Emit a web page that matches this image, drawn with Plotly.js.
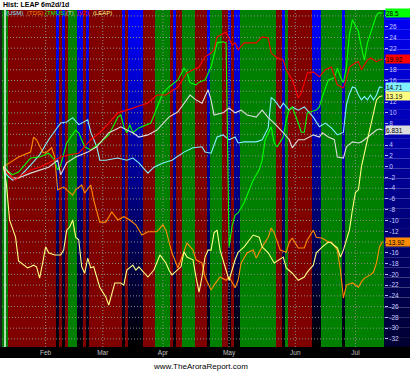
<!DOCTYPE html>
<html><head><meta charset="utf-8">
<script src="https://cdn.plot.ly/plotly-3.0.1.min.js"></script>
<style>html,body{margin:0;padding:0;background:#fff;overflow:hidden}#chart{width:410px;height:374px}</style>
</head><body><div id="chart"></div>
<script>
// ---- data (trading-day index 0..126, % change) ----
const monthTicks = [14, 33, 53, 75, 97, 117];
const monthNames = ['Feb', 'Mar', 'Apr', 'May', 'Jun', 'Jul'];
const yTickVals = [28,26,24,22,20,18,16,14,12,10,8,6,4,2,0,-2,-4,-6,-8,-10,-12,-14,-16,-18,-20,-22,-24,-26,-28,-30,-32];
const yTickHidden = [28, 20, 14, 6, -14];   // covered by the end-value boxes

// daily signal band: G = green, R = red, B = blue
const bandCodes = ("GG RRRRRRRRRRRRRRRR B R B R GGG BB R B RRRRRRRRRRR B R BBBBB RRRR GGGGG R B RR GGGG RRRR B GGGG RR B R BB " +
                   "GGGGGGGGGGGG RR B G RRRRRRRR BBB GGGGGGG B GGGGGGGGGGGGG").replace(/ /g, '');

const usmDays = [0,1,3,5,9,12,15,19,21,23,25,28,29,31,32,34,38,41,43,45,48,50,53,56,60,63,66,67,69,71,73,75,77,78,80,84,86,88,89,90,92,93,95,96,98,100,103,105,107,109,111,113,114,115,116,117,118,119,120,121,122,123,124,125,126];
const usmVals = [0,-1.5,-2.5,-2.1,0.3,2.2,5.0,8.1,8.3,9.1,7.8,8.7,6.4,3.7,1.2,1.2,1.6,1.2,1.6,0.7,-1.2,-0.1,0.7,1.2,2.7,3.5,3.7,2.7,2.5,5.5,5.9,5.0,5.5,4.4,4.6,4.6,5.0,7.2,12.8,12.4,10.9,11.8,10.5,11.1,10.5,11.1,9.2,7.4,8.1,7.2,5.9,6.4,11.5,13.5,14.8,14.6,13.3,12.4,13.0,12.4,13.3,12.4,13.3,14.8,14.71];

const tdsDays = [0,1,2,5,9,10,11,13,14,16,17,18,20,21,23,24,26,27,29,30,32,34,36,38,40,42,44,46,48,50,51,53,54,56,58,59,61,63,64,66,67,69,70,72,74,75,77,78,79,81,83,84,86,88,89,90,92,94,95,96,98,100,101,103,104,106,108,109,111,112,113,114,116,118,119,120,122,123,124,125,126];
const tdsVals = [0,0.3,0.7,1.8,2.7,5.5,5.0,2.7,2.5,3.5,1.8,-4.3,-3.8,-4.3,-5.3,-4.3,-3.4,-4.9,-3.4,-6.2,-10.3,-10.3,-8.4,-9.9,-9.3,-9.9,-10.8,-12.7,-12.1,-12.1,-12.1,-10.8,-11.8,-16.0,-18.8,-17.3,-14.2,-15.5,-17.3,-17.9,-20.5,-22.9,-22.0,-20.5,-21.1,-20.5,-22.5,-21.1,-17.9,-16.0,-15.5,-17.0,-14.9,-13.1,-11.4,-12.3,-15.5,-15.9,-14.0,-13.3,-15.1,-15.1,-13.6,-11.8,-13.1,-13.3,-14.0,-14.0,-15.5,-19.2,-24.4,-22.0,-21.6,-22.4,-21.4,-20.7,-20.1,-19.6,-17.9,-14.9,-13.92];

const tmusDays = [0,1,3,5,9,12,15,17,18,19,21,23,24,25,27,29,32,35,38,39,40,41,42,43,45,49,50,52,53,55,58,60,61,62,64,65,67,69,71,73,74,75,76,77,78,80,83,85,86,87,88,89,90,91,93,94,95,96,98,99,100,101,104,105,106,108,110,111,112,113,114,115,116,118,119,120,121,122,123,124,125,126];
const tmusVals = [0,-0.6,-1.5,-1.0,1.6,1.8,2.5,1.2,-0.6,0.3,4.4,5.9,6.8,6.3,3.7,3.1,4.4,5.9,9.2,9.6,7.4,6.3,7.8,6.3,7.2,8.1,9.6,12.4,13.7,14.8,16.1,18.3,17.6,15.6,15.2,15.7,16.1,18.5,23.0,23.2,23.0,-14.9,-11.0,-9.0,-8.6,-6.7,-2.5,-0.6,1.2,5.0,6.3,7.4,4.4,3.7,5.5,8.7,10.5,11.1,8.1,6.4,6.4,10.0,10.5,11.1,13.0,16.1,16.5,18.3,16.7,15.6,18.5,24.5,27.3,25.1,22.1,19.8,23.0,24.8,26.7,28.2,28.6,28.5];

const tDays = [0,1,3,5,9,12,15,18,19,21,24,28,31,33,35,37,39,41,43,45,48,51,53,55,58,60,62,64,66,68,69,70,73,75,77,79,81,84,86,88,90,93,95,96,98,100,103,105,106,108,110,111,113,114,116,118,119,120,122,124,125,126];
const tVals = [0,-0.6,-2.1,-2.1,-1.2,-0.6,-0.1,1.2,-1.5,0.7,1.8,2.7,3.7,5.0,6.3,6.8,7.4,6.8,6.3,5.5,5.9,6.8,8.1,9.2,10.2,11.8,13.3,12.4,11.8,14.3,12.4,9.6,10.0,10.9,10.0,10.5,9.6,9.2,10.5,9.1,8.1,6.3,5.0,3.5,5.0,5.0,5.9,5.5,6.3,5.5,5.0,1.8,1.6,3.7,4.6,4.4,4.6,5.0,5.9,6.8,7.0,6.83];

const vzDays = [0,1,3,4,5,9,12,15,19,22,25,29,32,35,38,41,44,48,51,54,58,61,63,65,67,69,70,71,74,75,76,77,78,80,84,86,88,89,91,93,94,96,98,99,100,101,103,105,107,109,111,113,114,115,117,118,119,120,121,122,123,124,125,126];
const vzVals = [0,-1.0,-2.1,-2.5,-1.9,-0.6,-0.1,0.7,1.8,2.2,2.5,5.0,6.3,8.1,10.0,10.5,11.1,11.8,13.3,13.3,14.8,17.4,18.0,18.5,20.4,21.1,21.7,24.1,25.0,23.9,22.6,23.0,21.7,23.0,23.0,24.1,23.9,21.1,20.2,19.8,18.0,16.1,12.8,13.7,15.6,17.4,17.6,16.7,18.0,18.5,15.2,14.6,16.3,18.5,19.3,19.5,18.0,18.9,19.8,20.2,19.8,19.5,19.8,19.92];

const leapDays = [0,1,2,3,4,5,6,8,9,10,11,12,13,14,15,17,19,20,21,22,23,24,25,26,27,28,29,30,32,34,35,37,39,40,41,43,44,45,48,50,52,54,55,56,59,60,61,63,64,65,66,67,68,69,70,71,72,74,75,76,77,78,80,83,85,86,88,90,93,94,96,98,100,101,103,104,106,108,109,111,112,113,115,116,117,118,119,120,121,122,123,124,125,126];
const leapVals = [0,-3.4,-9.9,-11.4,-13.1,-17.5,-17.9,-18.8,-18.6,-18.3,-18.6,-20.7,-17.9,-14.9,-16.0,-16.4,-16.4,-15.5,-11.8,-11.2,-9.9,-13.1,-13.6,-18.6,-19.8,-17.0,-18.8,-18.6,-22.4,-24.2,-25.7,-21.6,-21.6,-22.0,-19.2,-18.3,-19.2,-18.6,-20.5,-19.2,-16.4,-17.9,-19.2,-20.1,-18.6,-15.8,-16.8,-17.3,-20.5,-23.3,-20.5,-16.8,-15.5,-15.5,-12.3,-11.8,-15.5,-19.2,-21.1,-19.2,-17.3,-15.9,-14.9,-12.7,-13.1,-14.9,-16.0,-17.9,-16.8,-18.8,-19.8,-21.1,-20.5,-19.6,-18.3,-16.0,-14.9,-14.0,-14.2,-15.1,-16.8,-15.5,-11.8,-8.0,-4.8,-4.3,0.0,2.5,5.0,7.8,10.5,12.4,13.0,13.19];

const seriesNames = ['USM', 'TDS', 'TMUS', 'T', 'VZ', 'LEAP'];
const seriesColors = ['#80f0ff', '#ff8c00', '#00ff00', '#dcdcdc', '#ff0000', '#ffff80'];
const seriesDays = [usmDays, tdsDays, tmusDays, tDays, vzDays, leapDays];
const seriesVals = [usmVals, tdsVals, tmusVals, tVals, vzVals, leapVals];
const endLabels = ['14.71', '-13.92', '28.5', '6.831', '19.92', '13.19'];

// ---- drawing ----
const Y0 = -33.5, Y1 = 29.1, NDAYS = bandCodes.length;
const PW = 382, PH = 337, PXDAY = PW / NDAYS;
const FONT = 'Liberation Sans, Arial, sans-serif';
const traces = [];
const bandFill = {R: '#800000', G: '#008000', B: '#000080'};

// background bands: one filled rectangle per run of equal codes
let s = 0;
for (let i = 1; i <= NDAYS; i++) {
  if (i === NDAYS || bandCodes[i] !== bandCodes[s]) {
    const c = bandCodes[s];
    const a = s - 0.5, b = i - 0.5;
    const tr = {type: 'scatter', mode: 'lines', x: [a, b, b, a, a], y: [Y0, Y0, Y1, Y1, Y0], fill: 'toself',
      fillcolor: bandFill[c], line: {width: 0}, hoverinfo: 'skip', showlegend: false};
    if (c === 'B') {
      tr.fillgradient = {type: 'vertical', start: Y0, stop: Y1,
        colorscale: [[0, '#000000'], [0.5, '#000090'], [1, '#0000ff']]};
    }
    traces.push(tr);
    s = i;
  }
}
const nBandTraces = traces.length;

// dotted grid above the bands (rows start at staggered dot phases)
const gx = [], gy = [];
yTickVals.forEach((v, k) => { gx.push(-0.5 + (k % 3) / PXDAY, NDAYS - 0.5, null); gy.push(v, v, null); });
monthTicks.forEach(d => { gx.push(d, d, null); gy.push(Y0, Y1, null); });
traces.push({type: 'scatter', mode: 'lines', x: gx, y: gy, hoverinfo: 'skip', showlegend: false,
  line: {color: '#8c8c8c', width: 1, dash: '1px,2px'}});

// series lines
for (let k = 0; k < seriesNames.length; k++) {
  traces.push({type: 'scatter', mode: 'lines', name: seriesNames[k], x: seriesDays[k], y: seriesVals[k],
    line: {color: seriesColors[k], width: 1.1}, showlegend: false});
}

const shapes = [];
// right axis strip gradient
const NST = 34;
for (let i = 0; i < NST; i++) {
  const t = i / NST;
  const bl = Math.round(245 - (245 - 45) * t);
  shapes.push({type: 'rect', xref: 'paper', yref: 'paper', x0: 1, x1: 1 + 27 / PW,
    y1: 1 - t, y0: 1 - (i + 1) / NST, fillcolor: 'rgb(0,0,' + bl + ')', line: {width: 0}, layer: 'below'});
}
// bottom black strip & left edge
shapes.push({type: 'rect', xref: 'paper', yref: 'paper', x0: -3 / PW, x1: 1 + 30 / PW, y0: -11 / PH, y1: 0,
  fillcolor: '#000000', line: {width: 0}, layer: 'below'});
shapes.push({type: 'rect', xref: 'paper', yref: 'paper', x0: -3 / PW, x1: 0, y0: 0, y1: 1,
  fillcolor: '#202020', line: {width: 0}, layer: 'below'});
// cursor line
shapes.push({type: 'line', xref: 'x', yref: 'paper', x0: 0.5, x1: 0.5, y0: 0, y1: 1,
  line: {color: '#e8ffe8', width: 1.5}, layer: 'above'});

const annotations = [];
annotations.push({xref: 'paper', yref: 'paper', x: -1 / PW, y: 1, xanchor: 'left', yanchor: 'bottom',
  yshift: 0, text: '<b>Hist: LEAP 6m2d/1d</b>', showarrow: false, font: {family: FONT, size: 7, color: '#000'}});
const legendX = [4, 25, 43, 64, 75, 91];
for (let k = 0; k < seriesNames.length; k++) {
  annotations.push({xref: 'paper', yref: 'paper', x: (legendX[k] - 2) / PW, y: 1, xanchor: 'left', yanchor: 'middle',
    yshift: -3, text: '(' + seriesNames[k] + ')', showarrow: false,
    font: {family: FONT, size: 6, color: seriesColors[k]}});
  const v = seriesVals[k][seriesVals[k].length - 1];
  annotations.push({xref: 'paper', yref: 'y', x: 1, y: v, xanchor: 'left', yanchor: 'middle', xshift: 1,
    text: endLabels[k], showarrow: false, bgcolor: seriesColors[k], width: 25, height: 8, align: 'left',
    borderpad: 0, font: {family: FONT, size: 6.5, color: '#000'}});
}
annotations.push({xref: 'paper', yref: 'paper', x: (200 - 2) / PW, y: -(366 - 347) / PH, xanchor: 'center', yanchor: 'middle',
  text: 'www.TheAroraReport.com', showarrow: false, font: {family: FONT, size: 8, color: '#000'}});

const layout = {
  width: 410, height: 374, autosize: false,
  margin: {l: 2, r: 26, t: 10, b: 27, pad: 0},
  paper_bgcolor: '#ffffff', plot_bgcolor: '#800000',
  showlegend: false,
  xaxis: {range: [-0.5, NDAYS - 0.5], tickvals: monthTicks, ticktext: monthNames, ticks: '', showgrid: false,
    zeroline: false, showline: false, fixedrange: true, tickfont: {family: FONT, size: 6.5, color: '#c0c0c0'}},
  yaxis: {range: [Y0, Y1], side: 'right', tickvals: yTickVals,
    ticktext: yTickVals.map(v => yTickHidden.includes(v) ? '' : String(v)),
    ticks: 'outside', ticklen: 3, tickcolor: '#b8b8ff', showgrid: false, zeroline: false, showline: false,
    fixedrange: true, tickfont: {family: FONT, size: 6.5, color: '#c8c8ff'}},
  shapes: shapes, annotations: annotations
};
Plotly.newPlot('chart', traces, layout, {staticPlot: true, displayModeBar: false}).then(gd => {
  // crisp (non-antialiased) band edges
  const groups = gd.querySelectorAll('.scatterlayer .trace');
  groups.forEach((g, i) => {
    if (i < nBandTraces) g.querySelectorAll('path').forEach(p => p.setAttribute('shape-rendering', 'crispEdges'));
  });
});
</script></body></html>
